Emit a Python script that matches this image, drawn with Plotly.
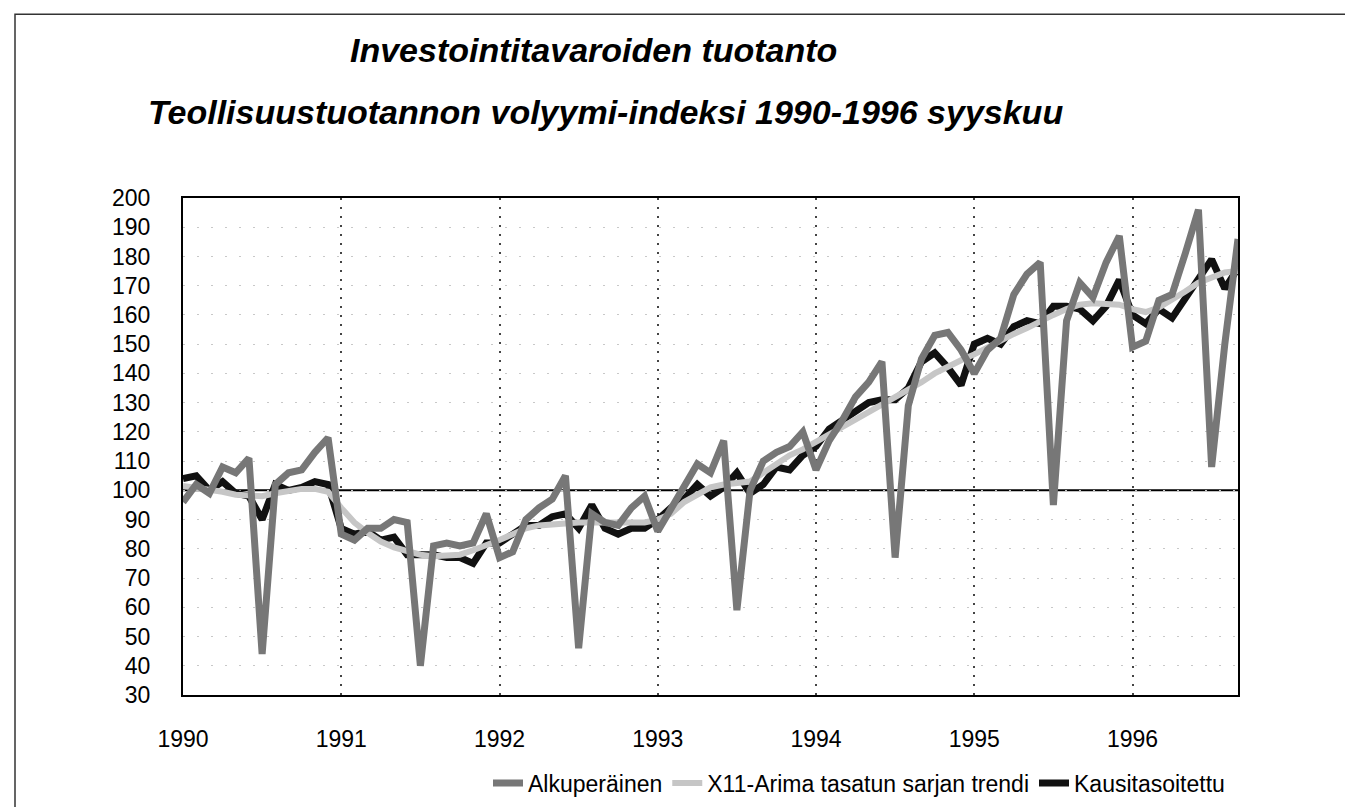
import plotly.graph_objects as go

# ---- data (monthly, Jan 1990 .. Sep 1996) ----
years = ["1990", "1991", "1992", "1993", "1994", "1995", "1996"]
alkuperainen = [
    96, 102, 99, 108, 106, 111, 44, 102, 106, 107, 113, 118,
    85, 83, 87, 87, 90, 89, 40, 81, 82, 81, 82, 92,
    77, 79, 90, 94, 97, 105, 46, 92, 89, 88, 94, 98,
    86, 94, 101, 109, 106, 117, 59, 100, 110, 113, 115, 120,
    107, 117, 124, 132, 137, 144, 77, 129, 145, 153, 154, 148,
    140, 148, 152, 167, 174, 178, 95, 158, 171, 166, 178, 187,
    149, 151, 165, 167, 181, 196, 108, 150, 186,
]
trendi = [
    101.5, 101, 100.5, 99.5, 98.5, 98, 98, 99, 100, 100.5, 100.5, 99.5,
    94, 89, 85.5, 82.5, 80.5, 79, 78, 77.5, 77.5, 78, 79.5, 81,
    83, 85, 87, 88, 88.5, 89, 89, 89, 89, 88.5, 88.5, 89,
    90, 92, 96, 98.5, 101, 102, 102.5, 103, 106, 109, 112, 114,
    116.5, 119, 122, 124.5, 126.5, 129, 131.5, 134, 137, 140, 142.5, 144.5,
    146.5, 149, 151, 153.5, 155.5, 158, 160, 162, 163.5, 164, 164, 163.5,
    162, 161, 162.5, 165, 168, 171, 173, 174.5, 175,
]
kausitasoitettu = [
    104, 105, 100, 103, 99, 98, 90, 102, 100, 101, 103, 102,
    87, 85, 86, 83, 84, 78, 78, 78, 77, 77, 75, 82,
    82, 85, 88, 88, 91, 92, 87, 95, 87, 85, 87, 87,
    90, 94, 97, 102, 98, 101, 106, 99, 102, 108, 107, 112,
    115, 121, 124, 127, 130, 131, 131, 135, 144, 147, 142, 136,
    150, 152, 150, 156, 158, 157, 163, 163, 162, 158, 163, 172,
    160, 157, 162, 159, 166, 172, 179, 169, 176,
]
months = list(range(len(alkuperainen)))
year_ticks = [12 * i for i in range(len(years))]

FONT = "Liberation Sans, Arial, sans-serif"

# plot area in pixels (figure 1353 x 807)
W, H = 1353, 807
L, R, T, B = 175, 1230, 190, 688


def px(x):
    return (x - L) / (R - L)


def py(y):
    return (B - y) / (B - T)


fig = go.Figure()
fig.add_trace(go.Scatter(x=months, y=kausitasoitettu, mode="lines", name="Kausitasoitettu",
                         line=dict(color="#111111", width=7), legendrank=3))
fig.add_trace(go.Scatter(x=months, y=trendi, mode="lines", name="X11-Arima tasatun sarjan trendi",
                         line=dict(color="#c6c6c6", width=6), legendrank=2))
fig.add_trace(go.Scatter(x=months, y=alkuperainen, mode="lines", name="Alkuperäinen",
                         line=dict(color="#777777", width=7), legendrank=1))

fig.update_layout(
    width=W, height=H,
    margin=dict(l=L, r=W - R, t=T, b=H - B),
    paper_bgcolor="white", plot_bgcolor="white",
    font=dict(family=FONT, color="black", size=23),
    showlegend=True,
    legend=dict(orientation="h", x=px(1222), xanchor="right", y=py(775), yanchor="middle",
                font=dict(size=23, family=FONT), itemwidth=30, tracegroupgap=0,
                bgcolor="rgba(0,0,0,0)"),
)
fig.update_xaxes(range=[0, 80], tickvals=year_ticks, ticktext=years,
                 showgrid=True, gridcolor="#444444", griddash="2px,7px", gridwidth=1.5,
                 showline=True, linecolor="black", linewidth=2, mirror=True,
                 ticks="", ticklabelstandoff=22, tickfont=dict(size=23),
                 zeroline=False)
fig.update_yaxes(range=[30, 200], dtick=10, tick0=30,
                 showgrid=True, gridcolor="#c8c8c8", griddash="2px,12px", gridwidth=1,
                 showline=True, linecolor="black", linewidth=2, mirror=True,
                 ticks="", ticklabelstandoff=26, tickfont=dict(size=23),
                 zeroline=False)

# reference line at 100
fig.add_shape(type="line", xref="paper", yref="y", x0=0, x1=1, y0=100, y1=100,
              line=dict(color="black", width=2), layer="below")
# outer frame
fig.add_shape(type="rect", xref="paper", yref="paper",
              x0=px(7), x1=px(1347), y0=py(830), y1=py(6),
              line=dict(color="#333333", width=1.5))

fig.add_annotation(text="<b><i>Investointitavaroiden tuotanto</i></b>", xref="paper", yref="paper",
                   x=px(340), y=py(42), xanchor="left", yanchor="middle", showarrow=False,
                   font=dict(size=34, family=FONT))
fig.add_annotation(text="<b><i>Teollisuustuotannon volyymi-indeksi 1990-1996 syyskuu</i></b>",
                   xref="paper", yref="paper",
                   x=px(138), y=py(104), xanchor="left", yanchor="middle", showarrow=False,
                   font=dict(size=34, family=FONT))

fig.write_html("out.html")
